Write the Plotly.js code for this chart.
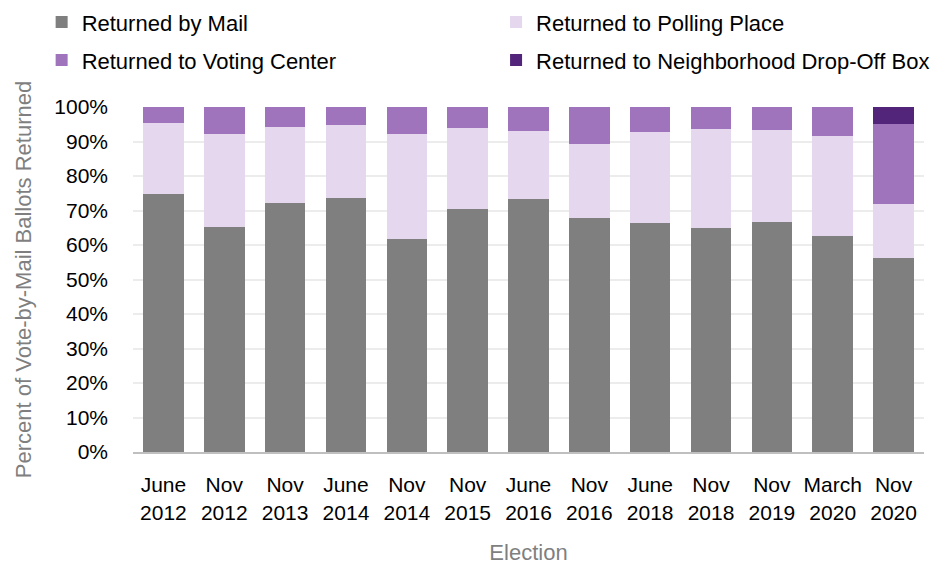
<!DOCTYPE html>
<html><head><meta charset="utf-8">
<script src="https://cdn.plot.ly/plotly-3.0.1.min.js"></script>
<style>html,body{margin:0;padding:0;background:#fff}#chart{width:945px;height:565px}</style>
</head><body><div id="chart"></div>
<script>
const categories = ["June<br>2012","Nov<br>2012","Nov<br>2013","June<br>2014","Nov<br>2014","Nov<br>2015","June<br>2016","Nov<br>2016","June<br>2018","Nov<br>2018","Nov<br>2019","March<br>2020","Nov<br>2020"];
const mail     = [74.7, 65.1, 72.1, 73.5, 61.6, 70.5, 73.2, 67.8, 66.3, 64.8, 66.7, 62.6, 56.1];
const polling  = [20.8, 27.0, 22.0, 21.2, 30.6, 23.3, 19.8, 21.5, 26.5, 28.8, 26.5, 28.9, 15.9];
const voting   = [4.5, 7.9, 5.9, 5.3, 7.8, 6.2, 7.0, 10.7, 7.2, 6.4, 6.8, 8.5, 23.0];
const dropoff  = [0, 0, 0, 0, 0, 0, 0, 0, 0, 0, 0, 0, 5.0];
const names = ["Returned by Mail","Returned to Polling Place","Returned to Voting Center","Returned to Neighborhood Drop-Off Box"];
const colors = ["#7f7f7f","#e4d7ee","#a074bd","#52247a"];
const series = [mail, polling, voting, dropoff];
const FONT = "'Liberation Sans', Arial, sans-serif";
const legendIds = ['legend', 'legend2', 'legend3', 'legend4'];

const traces = series.map((vals, i) => ({
  type: 'bar', x: categories, y: vals, name: names[i],
  marker: {color: colors[i], line: {width: 0}},
  legend: legendIds[i],
  hoverinfo: 'skip'
}));

function leg(x, y) {
  return {
    orientation: 'h', xref: 'paper', yref: 'paper', xanchor: 'left', yanchor: 'middle',
    x: x, y: y, font: {family: FONT, size: 22, color: '#000'},
    bgcolor: 'rgba(0,0,0,0)', borderwidth: 0
  };
}

const layout = {
  width: 945, height: 565,
  margin: {l: 132.5, r: 20.5, t: 106.7, b: 113.3, autoexpand: false},
  paper_bgcolor: '#fff', plot_bgcolor: '#fff',
  barmode: 'stack', bargap: 0.333,
  font: {family: FONT, size: 21, color: '#000'},
  showlegend: true,
  legend:  leg(-0.1155, 1.2455),
  legend2: leg(0.459, 1.2455),
  legend3: leg(-0.1155, 1.1354),
  legend4: leg(0.459, 1.1354),
  xaxis: {
    type: 'category', tickfont: {family: FONT, size: 21, color: '#000'},
    showline: true, linecolor: '#bfbfbf', linewidth: 2, ticks: '', showgrid: false,
    ticklabelstandoff: 13, automargin: false,
    title: {text: 'Election', font: {family: FONT, size: 22, color: '#7f7f7f'}, standoff: 22}
  },
  yaxis: {
    range: [0, 100], dtick: 10, ticksuffix: '%', tickfont: {family: FONT, size: 21, color: '#000'},
    showgrid: true, gridcolor: '#ececec', gridwidth: 2, zeroline: false, showline: false, ticks: '',
    ticklabelstandoff: 24, automargin: false,
    title: {text: 'Percent of Vote-by-Mail Ballots Returned', font: {family: FONT, size: 22, color: '#7f7f7f'}, standoff: 16}
  }
};

Plotly.newPlot('chart', traces, layout, {displayModeBar: false, staticPlot: true});
</script></body></html>
